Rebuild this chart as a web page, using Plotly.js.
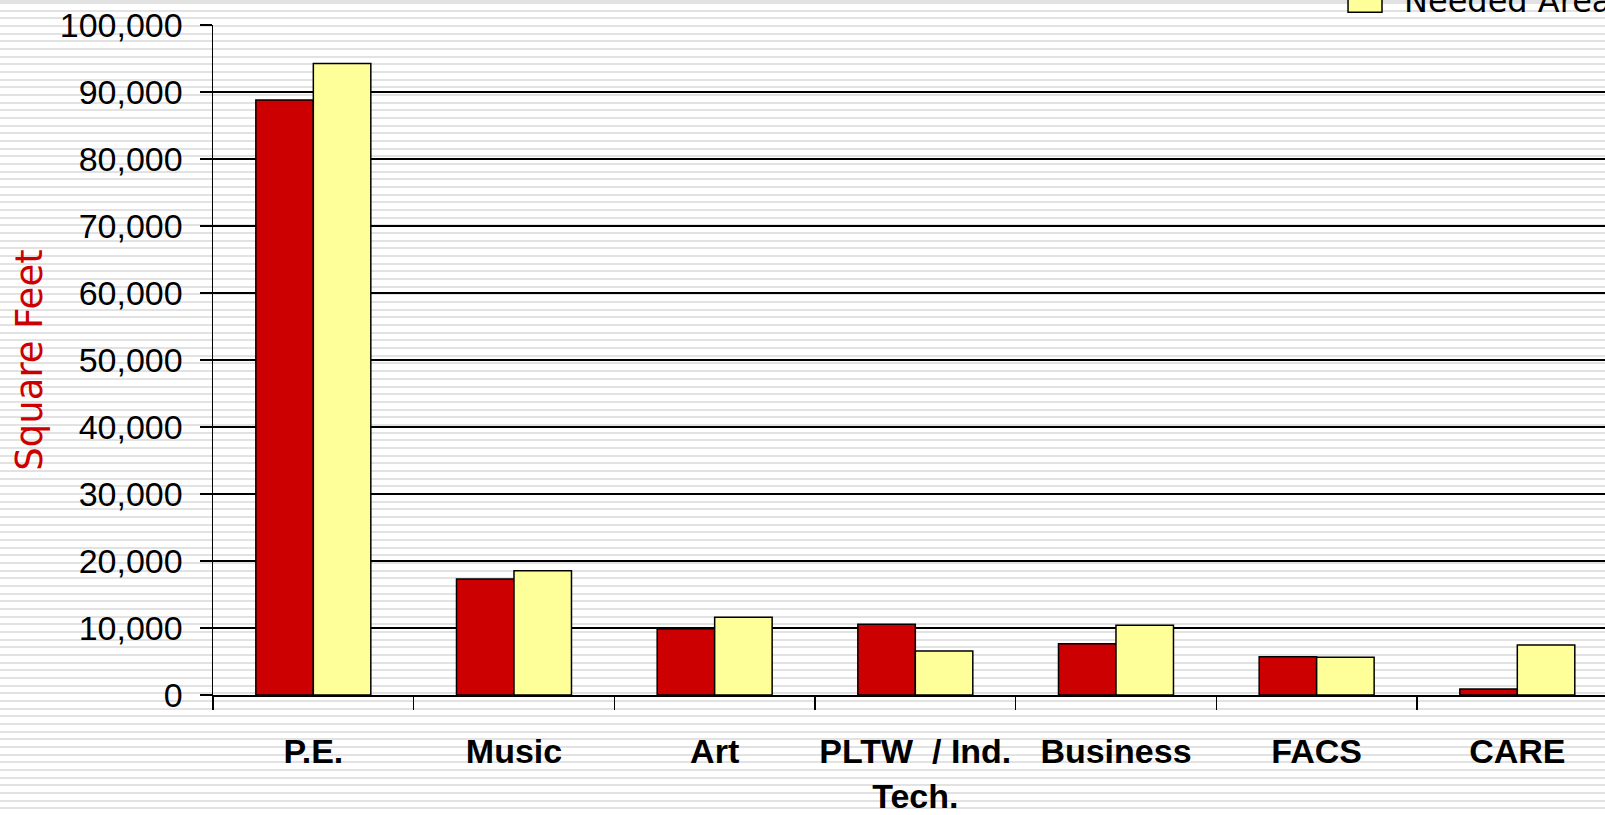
<!DOCTYPE html>
<html>
<head>
<meta charset="utf-8">
<script src="https://cdn.plot.ly/plotly-3.0.1.min.js"></script>
<style>
  html, body { margin: 0; padding: 0; }
  body {
    width: 1605px; height: 815px; overflow: hidden;
    background: repeating-linear-gradient(to bottom,
      #e2e2e2 0px, #e2e2e2 2px, #ffffff 2px, #ffffff 7.67px);
    background-position: 0 2px;
  }
  #chart { width: 1605px; height: 815px; }
</style>
</head>
<body>
<div id="chart"></div>
<script>
const categories = ["P.E.", "Music", "Art", "PLTW  / Ind.<br>Tech.", "Business", "FACS", "CARE"];
const existingArea = [88800, 17300, 9900, 10550, 7650, 5700, 900];
const neededArea = [94250, 18550, 11600, 6550, 10400, 5650, 7450];
const seriesNames = ["Existing Area", "Needed Area"];
const yTickVals = [0, 10000, 20000, 30000, 40000, 50000, 60000, 70000, 80000, 90000, 100000];
const yTickText = ["0", "10,000", "20,000", "30,000", "40,000", "50,000", "60,000", "70,000", "80,000", "90,000", "100,000"];

const sans = '"Liberation Sans", Arial, sans-serif';

const traces = [
  {
    type: 'bar', name: seriesNames[0], x: categories, y: existingArea,
    marker: { color: '#cc0000', line: { color: '#000000', width: 1.5 } },
    showlegend: false, hoverinfo: 'x+y+name'
  },
  {
    type: 'bar', name: seriesNames[1], x: categories, y: neededArea,
    marker: { color: '#ffff99', line: { color: '#000000', width: 1.5 } },
    showlegend: false, hoverinfo: 'x+y+name'
  }
];

const layout = {
  width: 1605, height: 815,
  margin: { l: 213, r: 0, t: 25, b: 120, autoexpand: false },
  paper_bgcolor: 'rgba(0,0,0,0)',
  plot_bgcolor: 'rgba(0,0,0,0)',
  barmode: 'group',
  bargap: 0.427,
  bargroupgap: 0,
  showlegend: false,
  xaxis: {
    type: 'category',
    range: [-0.5, 6.437],
    showline: true, linecolor: '#000000', linewidth: 1.5,
    ticks: 'outside', ticklen: 13, tickwidth: 1.5, tickcolor: '#000000',
    tickson: 'boundaries',
    tickangle: 0,
    showgrid: false, zeroline: false,
    tickfont: { family: sans, size: 34, color: '#000000', weight: 'bold' },
    ticklabelstandoff: 26,
    automargin: false
  },
  yaxis: {
    range: [0, 100000],
    tickvals: yTickVals, ticktext: yTickText,
    showline: true, linecolor: '#000000', linewidth: 1.5,
    ticks: 'outside', ticklen: 12, tickwidth: 1.5, tickcolor: '#000000',
    showgrid: true, gridcolor: '#000000', gridwidth: 1.5,
    zeroline: false,
    tickfont: { family: sans, size: 34, color: '#000000' },
    ticklabelstandoff: 10,
    automargin: false,
    title: { text: 'Square Feet', font: { family: '"DejaVu Sans", Verdana, sans-serif', size: 37, color: '#cc0000' }, standoff: 6 }
  },
  shapes: [
    { type: 'rect', xref: 'paper', yref: 'paper', x0: 0.8154, x1: 0.8398, y0: 1.019, y1: 1.069,
      fillcolor: '#ffff99', line: { color: '#000000', width: 1.5 } }
  ],
  annotations: [
    { xref: 'paper', yref: 'paper', x: 0.8542, y: 1.0045, xanchor: 'left', yanchor: 'bottom',
      text: seriesNames[1], showarrow: false,
      font: { family: '"DejaVu Sans", Verdana, sans-serif', size: 32, color: '#000000' } }
  ]
};

Plotly.newPlot('chart', traces, layout, { displayModeBar: false, staticPlot: true });
</script>
</body>
</html>
